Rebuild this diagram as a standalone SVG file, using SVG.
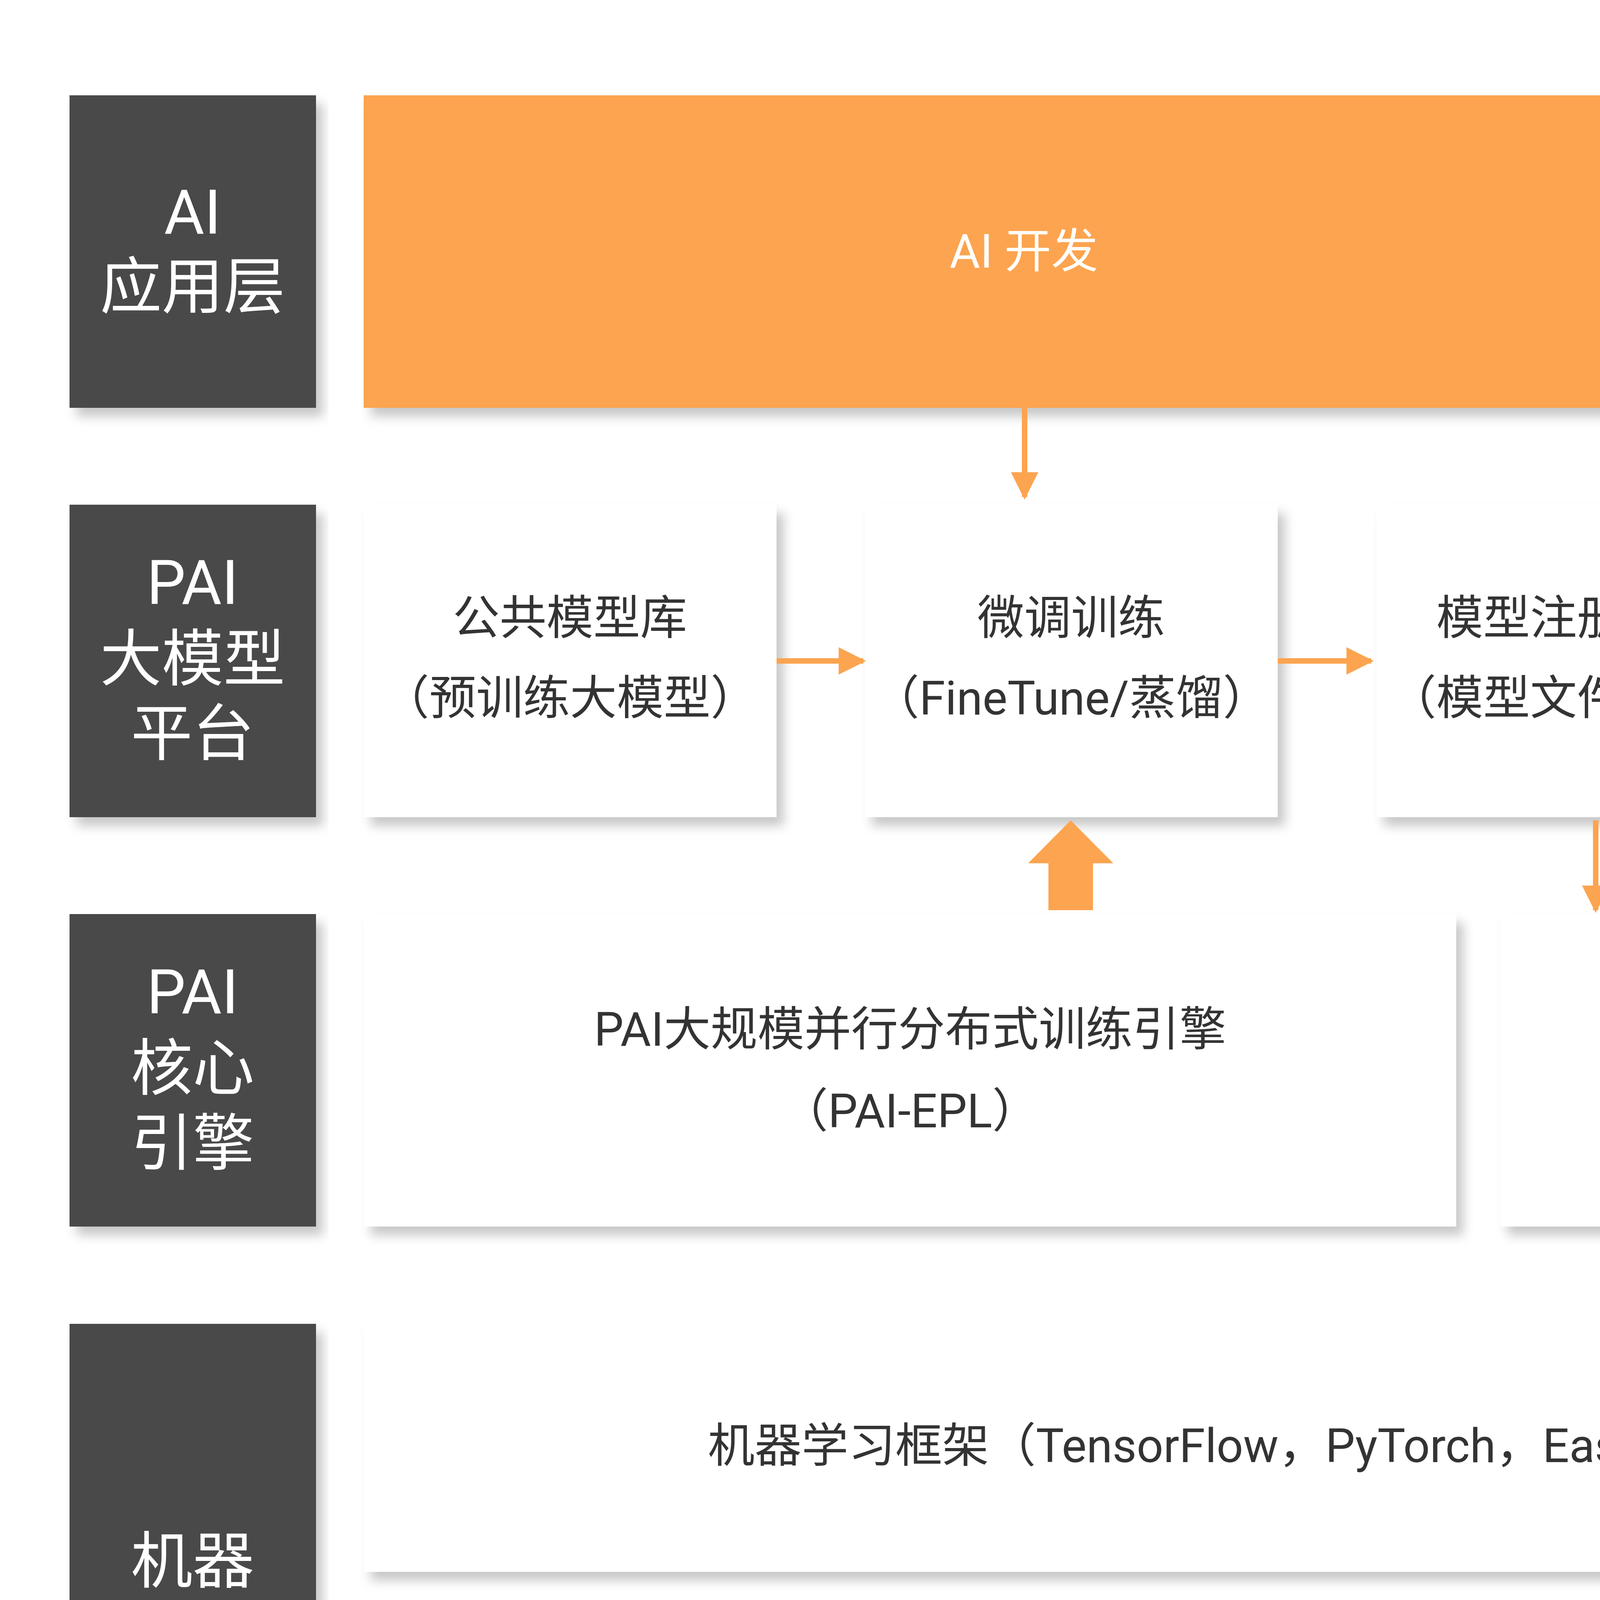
<svg xmlns="http://www.w3.org/2000/svg" width="6800" height="5820" viewBox="0 0 6800 5820">
<defs>
<filter id="sh" x="-5%" y="-5%" width="110%" height="115%"><feDropShadow dx="18" dy="22" stdDeviation="14" flood-color="#000" flood-opacity="0.22"/></filter>
<marker id="ah" viewBox="0 0 10 10" refX="9" refY="5" markerWidth="5" markerHeight="5" markerUnits="strokeWidth" orient="auto"><path d="M0,0L10,5L0,10z" fill="#FCA44F"/></marker>
<style>
.d{fill:#4A4A4A;filter:url(#sh)}
.o{fill:#FCA44F;filter:url(#sh)}
.w{fill:#fff;filter:url(#sh)}
text{font-family:Roboto,"Noto Sans CJK SC",sans-serif;text-anchor:middle;dominant-baseline:central}
.lt{fill:#fff;font-size:158px}
.ot{fill:#fff;font-size:120px}
.t{fill:#333;font-size:120px}
.ln{stroke:#FCA44F;stroke-width:14;fill:none;marker-end:url(#ah)}
.fa{fill:#FCA44F}
</style>
</defs>
<rect width="6800" height="5820" fill="#fff"/>
<g id="lab1"><rect class="d" x="178" y="244" width="631" height="800"/><text class="lt" x="493" y="544">AI</text><text class="lt" x="493" y="735">应用层</text></g>
<g id="lab2"><rect class="d" x="178" y="1292" width="631" height="800"/><text class="lt" x="493" y="1492">PAI</text><text class="lt" x="493" y="1688">大模型</text><text class="lt" x="493" y="1879">平台</text></g>
<g id="lab3"><rect class="d" x="178" y="2340" width="631" height="800"/><text class="lt" x="493" y="2540">PAI</text><text class="lt" x="493" y="2736">核心</text><text class="lt" x="493" y="2928">引擎</text></g>
<g id="lab4"><rect class="d" x="178" y="3389" width="631" height="2201"/><text class="lt" x="493" y="3998">机器</text><text class="lt" x="493" y="4189">学习</text><text class="lt" x="493" y="4385">框架与</text><text class="lt" x="493" y="4576">云计算</text><text class="lt" x="493" y="4772">基础</text><text class="lt" x="493" y="4963">设施</text></g>
<g id="aidev"><rect class="o" x="931" y="244" width="3380" height="800"/><text class="ot" x="2621" y="644">AI 开发</text></g>
<g id="aiapp"><rect class="o" x="4420" y="244" width="2218" height="800"/><text class="ot" x="5529" y="644">AI 应用</text></g>
<g id="n1"><rect class="w" x="931" y="1292" width="1057" height="800"/><text class="t" x="1459" y="1583">公共模型库</text><text class="t" x="1459" y="1788">（预训练大模型）</text></g>
<g id="n2"><rect class="w" x="2214" y="1292" width="1057" height="800"/><text class="t" x="2742" y="1583">微调训练</text><text class="t" x="2742" y="1788">（FineTune/蒸馏）</text></g>
<g id="n3"><rect class="w" x="3524" y="1292" width="787" height="800"/><text class="t" x="3917" y="1583">模型注册</text><text class="t" x="3917" y="1788">（模型文件）</text></g>
<g id="n4"><rect class="w" x="4420" y="1292" width="1057" height="800"/><text class="t" x="4948" y="1583">离线推理</text><text class="t" x="4948" y="1788">（Inference）</text></g>
<g id="n5"><rect class="w" x="5581" y="1292" width="1057" height="800"/><text class="t" x="6110" y="1583">在线服务</text><text class="t" x="6110" y="1788">（Prediction）</text></g>
<g id="e1"><rect class="w" x="931" y="2340" width="2797" height="800"/><text class="t" x="2330" y="2636">PAI大规模并行分布式训练引擎</text><text class="t" x="2330" y="2845">（PAI-EPL）</text></g>
<g id="e2"><rect class="w" x="3841" y="2340" width="2797" height="800"/><text class="t" x="5240" y="2636">PAI推理加速与在线预测服务</text><text class="t" x="5240" y="2845">（PAI-Blade &amp; PAI-EAS）</text></g>
<g id="f1"><rect class="w" x="931" y="3389" width="5707" height="635"/><text class="t" x="3784" y="3702">机器学习框架（TensorFlow，PyTorch，EasyTransfer，Transformers 等）</text></g>
<g id="f2"><rect class="w" x="931" y="4176" width="5707" height="635"/><text class="t" x="3784" y="4485">云原生AI基础平台（DLC）</text></g>
<g id="f3"><rect class="w" x="931" y="4959" width="5707" height="635"/><text class="t" x="3784" y="5268">基础硬件（CPU/GPU）&amp;容器服务（ACK）&amp;计算资源（ECS）</text></g>
<g id="connectors">
<line class="ln" x1="2623" y1="1044" x2="2623" y2="1272"/>
<line class="ln" x1="1988" y1="1692" x2="2210" y2="1692"/>
<line class="ln" x1="3271" y1="1692" x2="3510" y2="1692"/>
<line class="ln" x1="4946" y1="1280" x2="4946" y2="1050"/>
<line class="ln" x1="6112" y1="1280" x2="6112" y2="1050"/>
<line class="ln" x1="4085" y1="2100" x2="4085" y2="2330"/>
<path class="fa" d="M2741,2100L2850,2210L2798,2210L2798,2330L2684,2330L2684,2210L2632,2210z"/>
<path class="fa" d="M4946,2100L5055,2210L5003,2210L5003,2330L4889,2330L4889,2210L4837,2210z"/>
<path class="fa" d="M6112,2100L6221,2210L6169,2210L6169,2330L6055,2330L6055,2210L6003,2210z"/>
</g>
</svg>
